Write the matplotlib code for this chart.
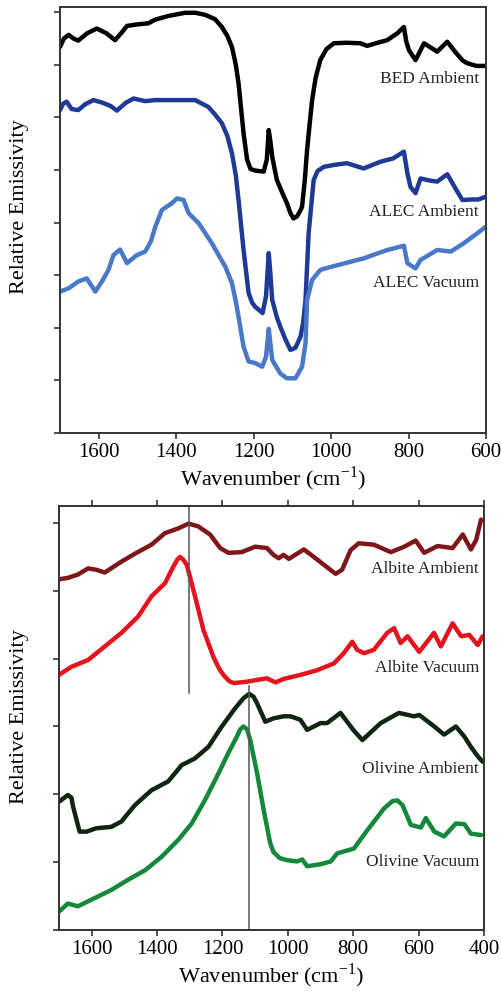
import numpy as np
import matplotlib.pyplot as plt

plt.rcParams['font.family'] = ['Liberation Serif', 'DejaVu Serif']
plt.rcParams['mathtext.fontset'] = 'stix'

# ---- top panel: quartz-like spectra (wavenumber, relative emissivity in tick units)
bed_w = [1700, 1690, 1678, 1665, 1653, 1630, 1605, 1580, 1558, 1540, 1527, 1500, 1472, 1454,
         1420, 1377, 1350, 1325, 1300, 1282, 1268, 1256, 1246, 1239, 1226, 1217, 1208, 1196,
         1174, 1166, 1161, 1156, 1152, 1140, 1125, 1114, 1105, 1097, 1088, 1080, 1075, 1068,
         1062, 1055, 1049, 1040, 1028, 1012, 993, 960, 924, 907, 880, 855, 829, 812, 806, 799,
         782, 760, 726, 700, 680, 660, 648, 625, 601]
bed_v = [7.34, 7.50, 7.57, 7.50, 7.46, 7.60, 7.69, 7.60, 7.47, 7.62, 7.74, 7.77, 7.79, 7.86,
         7.93, 7.99, 7.99, 7.95, 7.87, 7.72, 7.55, 7.34, 7.00, 6.65, 5.70, 5.20, 5.02, 4.99,
         4.97, 5.20, 5.76, 5.50, 5.25, 4.81, 4.55, 4.37, 4.18, 4.08, 4.12, 4.22, 4.30, 4.80,
         5.38, 5.90, 6.33, 6.75, 7.09, 7.30, 7.41, 7.42, 7.41, 7.36, 7.42, 7.47, 7.60, 7.72,
         7.45, 7.28, 7.09, 7.41, 7.25, 7.44, 7.25, 7.08, 7.03, 6.98, 6.98]

alec_amb_w = [1700, 1692, 1683, 1670, 1653, 1635, 1614, 1590, 1570, 1553, 1530, 1510, 1480,
              1454, 1400, 1351, 1317, 1300, 1282, 1268, 1256, 1246, 1239, 1226, 1213, 1204,
              1196, 1177, 1168, 1161, 1156, 1152, 1140, 1131, 1118, 1105, 1092, 1079, 1072,
              1066, 1058, 1045, 1035, 1019, 990, 959, 916, 872, 840, 812, 803, 795, 782, 769,
              745, 726, 700, 674, 661, 640, 620, 601]
alec_amb_v = [6.14, 6.26, 6.30, 6.16, 6.14, 6.25, 6.33, 6.28, 6.22, 6.13, 6.28, 6.36, 6.31,
              6.33, 6.33, 6.33, 6.20, 6.06, 5.89, 5.65, 5.32, 4.90, 4.43, 3.48, 2.66, 2.48,
              2.40, 2.28, 2.60, 3.42, 2.95, 2.53, 2.20, 2.02, 1.78, 1.58, 1.62, 1.83, 2.10,
              2.53, 3.80, 4.81, 4.98, 5.06, 5.10, 5.13, 5.03, 5.16, 5.22, 5.35, 4.94, 4.68,
              4.56, 4.84, 4.80, 4.78, 4.92, 4.59, 4.43, 4.44, 4.44, 4.49]

alec_vac_w = [1700, 1678, 1653, 1631, 1609, 1590, 1575, 1562, 1545, 1527, 1502, 1480, 1465,
              1454, 1437, 1411, 1398, 1381, 1368, 1342, 1308, 1273, 1256, 1246, 1239, 1226,
              1213, 1196, 1178, 1168, 1161, 1156, 1152, 1131, 1114, 1092, 1075, 1066, 1062,
              1049, 1028, 1005, 984, 916, 855, 812, 803, 782, 769, 726, 691, 657, 622, 601]
alec_vac_v = [2.69, 2.75, 2.88, 2.94, 2.69, 2.90, 3.10, 3.38, 3.49, 3.23, 3.38, 3.45, 3.65,
              3.92, 4.24, 4.37, 4.46, 4.43, 4.18, 3.99, 3.61, 3.16, 2.85, 2.50, 2.21, 1.64,
              1.36, 1.33, 1.26, 1.45, 1.98, 1.65, 1.39, 1.13, 1.04, 1.04, 1.26, 1.71, 2.53,
              2.91, 3.10, 3.15, 3.19, 3.32, 3.48, 3.56, 3.23, 3.13, 3.29, 3.48, 3.45, 3.61,
              3.80, 3.92]

# ---- bottom panel: albite and olivine
alb_amb_w = [1700, 1673, 1642, 1611, 1586, 1560, 1509, 1463, 1417, 1376, 1335, 1304, 1274,
             1238, 1207, 1182, 1141, 1100, 1064, 1044, 1028, 1013, 997, 951, 910, 854, 834,
             808, 783, 737, 685, 644, 609, 583, 542, 496, 465, 440, 424, 409]
alb_amb_v = [5.17, 5.19, 5.24, 5.33, 5.31, 5.27, 5.43, 5.56, 5.68, 5.85, 5.92, 5.99, 5.95,
             5.83, 5.63, 5.56, 5.57, 5.65, 5.63, 5.53, 5.48, 5.53, 5.47, 5.61, 5.46, 5.25,
             5.31, 5.60, 5.70, 5.68, 5.57, 5.65, 5.74, 5.56, 5.66, 5.63, 5.83, 5.61, 5.75, 6.05]

alb_vac_w = [1700, 1662, 1611, 1560, 1509, 1458, 1417, 1376, 1350, 1338, 1330, 1320, 1309,
             1284, 1258, 1228, 1210, 1197, 1180, 1166, 1125, 1090, 1064, 1038, 1013, 962, 910,
             859, 829, 803, 788, 767, 737, 696, 675, 655, 634, 598, 553, 532, 496, 470, 445,
             419, 404]
alb_vac_v = [3.76, 3.88, 3.98, 4.18, 4.38, 4.62, 4.92, 5.11, 5.36, 5.46, 5.50, 5.46, 5.38,
             4.92, 4.42, 4.03, 3.85, 3.76, 3.67, 3.64, 3.66, 3.69, 3.71, 3.65, 3.70, 3.76,
             3.83, 3.93, 4.08, 4.25, 4.13, 4.08, 4.13, 4.38, 4.45, 4.23, 4.33, 4.10, 4.38,
             4.18, 4.52, 4.33, 4.35, 4.20, 4.33]

oli_amb_w = [1700, 1673, 1662, 1657, 1637, 1616, 1586, 1540, 1509, 1468, 1417, 1366, 1325,
             1284, 1243, 1202, 1161, 1135, 1118, 1105, 1094, 1069, 1044, 1013, 992, 962, 941,
             900, 880, 839, 800, 772, 716, 660, 614, 598, 552, 522, 486, 460, 440, 419, 404]
oli_amb_v = [1.89, 1.99, 1.95, 1.82, 1.45, 1.45, 1.50, 1.52, 1.60, 1.84, 2.06, 2.19, 2.43,
             2.53, 2.70, 3.00, 3.27, 3.42, 3.48, 3.44, 3.34, 3.07, 3.12, 3.15, 3.15, 3.10,
             2.95, 3.05, 3.05, 3.20, 2.95, 2.80, 3.05, 3.20, 3.15, 3.17, 3.00, 2.88, 3.00,
             2.85, 2.70, 2.56, 2.48]

oli_vac_w = [1700, 1673, 1642, 1591, 1540, 1489, 1437, 1386, 1335, 1294, 1253, 1212, 1182,
             1156, 1145, 1136, 1125, 1115, 1094, 1074, 1054, 1044, 1025, 1003, 972, 956, 941,
             900, 869, 849, 798, 757, 706, 680, 665, 649, 624, 593, 578, 552, 522, 486, 460,
             440, 409]
oli_vac_v = [0.27, 0.39, 0.35, 0.47, 0.59, 0.74, 0.88, 1.08, 1.33, 1.57, 1.92, 2.31, 2.61,
             2.85, 2.96, 3.00, 2.96, 2.80, 2.31, 1.77, 1.28, 1.15, 1.06, 1.03, 1.01, 1.04,
             0.94, 0.97, 1.01, 1.13, 1.20, 1.47, 1.79, 1.90, 1.91, 1.84, 1.55, 1.51, 1.65,
             1.45, 1.38, 1.57, 1.56, 1.42, 1.40]

top_ticks = [1600, 1400, 1200, 1000, 800, 600]
bottom_ticks = [1600, 1400, 1200, 1000, 800, 600, 400]

fig = plt.figure(figsize=(5.01, 9.92), dpi=100)
ax1 = fig.add_axes([60 / 501, 1 - 433 / 992, 426 / 501, 426 / 992])
ax2 = fig.add_axes([59 / 501, 1 - 930 / 992, 425 / 501, 424 / 992])

lw = 3.2
style = dict(lw=lw, solid_joinstyle='round', solid_capstyle='round')
ax1.plot(bed_w, bed_v, color='#000000', **style)
ax1.plot(alec_amb_w, alec_amb_v, color='#1f3a96', **style)
ax1.plot(alec_vac_w, alec_vac_v, color='#4a78c8', **style)
ax1.set_xlim(1700, 600)
ax1.set_ylim(0, 8.1)
ax1.set_xticks(top_ticks)
ax1.set_yticks(range(9))
ax1.set_yticklabels([])

ax2.plot(alb_amb_w, alb_amb_v, color='#7e1518', **style)
ax2.plot(alb_vac_w, alb_vac_v, color='#e3141e', **style)
ax2.plot(oli_amb_w, oli_amb_v, color='#0d2610', **style)
ax2.plot(oli_vac_w, oli_vac_v, color='#14883a', **style)
ax2.plot([1301, 1301], [3.49, 6.25], color='#555555', lw=1.1)
ax2.plot([1118, 1118], [0, 3.6], color='#555555', lw=1.1)
ax2.set_xlim(1700, 400)
ax2.set_ylim(0, 6.25)
ax2.set_xticks(bottom_ticks)
ax2.set_yticks(range(7))
ax2.set_yticklabels([])
ax2.tick_params(axis='x', top=True)

for ax in (ax1, ax2):
    for s in ax.spines.values():
        s.set_linewidth(1.4)
        s.set_color('#333333')
    ax.tick_params(direction='out', length=4, width=1.2, color='#333333', labelsize=15, pad=3)
    ax.set_xlabel('Wavenumber (cm$^{\\mathregular{-1}}$)', fontsize=16, labelpad=2)

lab = dict(ha='right', va='center', fontsize=12.5, color='#222222')
ax1.text(619, 6.73, 'BED Ambient', **lab)
ax1.text(619, 4.20, 'ALEC Ambient', **lab)
ax1.text(619, 2.85, 'ALEC Vacuum', **lab)
ax2.text(415, 5.32, 'Albite Ambient', **lab)
ax2.text(415, 3.86, 'Albite Vacuum', **lab)
ax2.text(415, 2.37, 'Olivine Ambient', **lab)
ax2.text(415, 1.00, 'Olivine Vacuum', **lab)

fig.text(20 / 501, 1 - 207 / 992, 'Relative Emissivity', rotation=90, ha='center', va='center', fontsize=16)
fig.text(20 / 501, 1 - 717 / 992, 'Relative Emissivity', rotation=90, ha='center', va='center', fontsize=16)

fig.savefig('out.png', dpi=100)
